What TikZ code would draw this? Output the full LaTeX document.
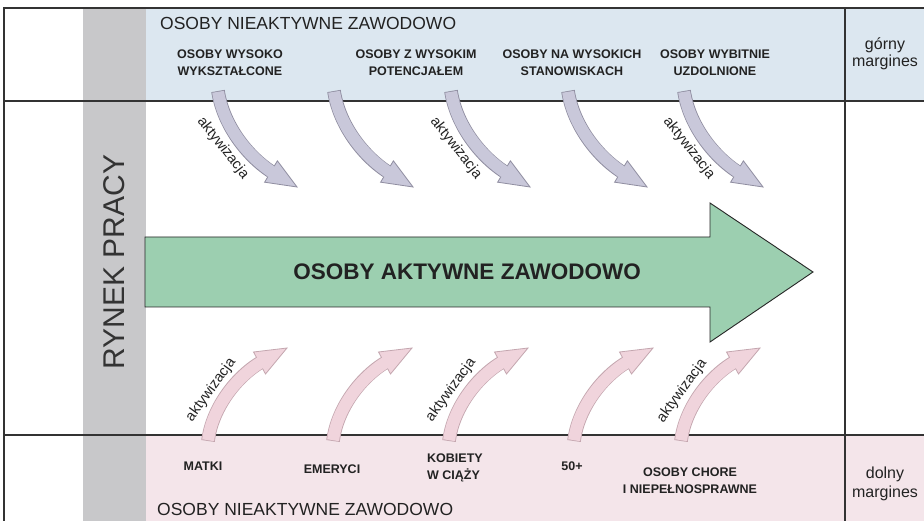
\documentclass[tikz,border=0pt]{standalone}
\usepackage{fontspec}
\setmainfont{Liberation Sans}
\definecolor{bandblue}{HTML}{DCE7F0}
\definecolor{bandpink}{HTML}{F4E5EA}
\definecolor{barcol}{HTML}{C8C8CA}
\definecolor{greenfill}{HTML}{9CCFB0}
\definecolor{upfill}{HTML}{C9C8DA}
\definecolor{upedge}{HTML}{8F8DA0}
\definecolor{downfill}{HTML}{F0D4DC}
\definecolor{downedge}{HTML}{C4A6AF}
\definecolor{ink}{HTML}{222222}
\begin{document}
\begin{tikzpicture}[x=1pt,y=-1pt,
  frame/.style={draw=black!80, line width=1.4pt},
  bandtitle/.style={font=\fontsize{17.5}{21}\selectfont, text=ink, inner sep=0pt, anchor=base west},
  grouplabel/.style={font=\bfseries\fontsize{12.5}{17}\selectfont, text=ink, inner sep=0pt, align=center, anchor=base},
  marginlabel/.style={font=\fontsize{16}{17}\selectfont, text=ink, inner sep=0pt, align=center, anchor=base},
  actlabel/.style={font=\fontsize{14.5}{16}\selectfont, text=ink, inner sep=0pt},
  bigarrow/.style={fill=greenfill, draw=black!85, line width=0.9pt, line join=miter},
  % curved arrow leaving the upper band (tail at the origin)
  downarr/.pic={
    \draw[upedge, line width=13.6pt] (0,0) .. controls (5,33) and (28,64) .. (53,80.5);
    \filldraw[fill=upfill, draw=upedge, line width=0.8pt, line join=miter]
      (46.6,91.2) -- (79,96) -- (59.4,69.8) -- cycle;
    \draw[upfill, line width=12pt, shorten <=0.8pt] (0,0) .. controls (5,33) and (28,64) .. (55,81.7);
  },
  % curved arrow leaving the lower band (tail at the origin)
  uparr/.pic={
    \draw[downedge, line width=13.6pt] (0,0) .. controls (4,-32) and (27,-63) .. (51.5,-78);
    \filldraw[fill=downfill, draw=downedge, line width=0.8pt, line join=miter]
      (45.5,-89) -- (79,-93) -- (57.5,-67) -- cycle;
    \draw[downfill, line width=12pt, shorten <=0.8pt] (0,0) .. controls (4,-32) and (27,-63) .. (53.3,-79);
  }]
\useasboundingbox (0,0) rectangle (924,521);
\fill[white] (0,0) rectangle (924,521);

% bands and the vertical bar
\fill[bandblue] (145,8) rectangle (924,101);
\fill[bandpink] (145,435) rectangle (924,521);
\fill[barcol] (83,8) rectangle (146,521);

% grid lines
\draw[frame] (4,521) -- (4,8) -- (924,8);
\draw[frame] (4,101) -- (924,101);
\draw[frame] (4,435) -- (924,435);
\draw[frame] (845,8) -- (845,521);

% vertical caption
\node[font=\fontsize{30}{36}\selectfont, text=black!80, rotate=90, inner sep=0pt] (rynek) at (114,262) {RYNEK PRACY};

% main arrow
\draw[bigarrow] (145,237) -- (710,237) -- (710,203) -- (813,272) -- (710,342) -- (710,307) -- (145,307) -- cycle;
\node[font=\bfseries\fontsize{22.5}{26}\selectfont, text=ink, inner sep=0pt] (aktywni) at (467,272) {OSOBY AKTYWNE ZAWODOWO};

% upper band texts (multi-line nodes sit on the baseline of their last line)
\node[bandtitle] (topband) at (160,30) {OSOBY NIEAKTYWNE ZAWODOWO};
\node[grouplabel] (g1) at (230,76) {OSOBY WYSOKO\\WYKSZTAŁCONE};
\node[grouplabel] (g2) at (416,76) {OSOBY Z WYSOKIM\\POTENCJAŁEM};
\node[grouplabel] (g3) at (572,76) {OSOBY NA WYSOKICH\\STANOWISKACH};
\node[grouplabel] (g4) at (715,76) {OSOBY WYBITNIE\\UZDOLNIONE};
\node[marginlabel] (gorny) at (885,67) {górny\\margines};

% lower band texts
\node[bandtitle] (bottomband) at (157,515) {OSOBY NIEAKTYWNE ZAWODOWO};
\node[grouplabel] (h1) at (203,470) {MATKI};
\node[grouplabel] (h2) at (332,473) {EMERYCI};
\node[grouplabel, align=left, anchor=base west] (h3) at (427,479) {KOBIETY\\W CIĄŻY};
\node[grouplabel] (h4) at (572,470) {50+};
\node[grouplabel] (h5) at (690,493) {OSOBY CHORE\\I NIEPEŁNOSPRAWNE};
\node[marginlabel, font=\fontsize{16}{19}\selectfont] (dolny) at (885,497) {dolny\\margines};

% activation arrows from the upper band
\foreach \tx in {218,334,451,568,684} {
  \pic at (\tx,91) {downarr};
}
\node[actlabel, rotate=-52] (a1) at (223,148) {aktywizacja};
\node[actlabel, rotate=-52] (a2) at (456,148) {aktywizacja};
\node[actlabel, rotate=-52] (a3) at (689,148) {aktywizacja};

% activation arrows from the lower band
\foreach \tx in {208,333,449,574,681} {
  \pic at (\tx,441) {uparr};
}
\node[actlabel, rotate=54] (b1) at (211,390) {aktywizacja};
\node[actlabel, rotate=54] (b2) at (451,390) {aktywizacja};
\node[actlabel, rotate=54] (b3) at (682,391) {aktywizacja};
\end{tikzpicture}
\end{document}
